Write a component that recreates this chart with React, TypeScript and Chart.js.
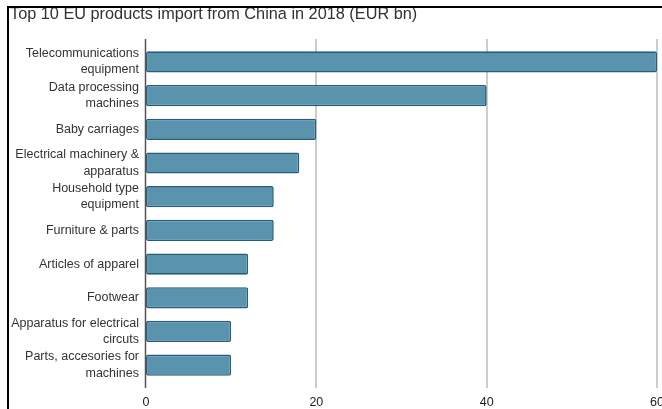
import React, { useEffect, useRef } from "react";
import { Chart, registerables } from "chart.js";

Chart.register(...registerables);

const titleText = "Top 10 EU products import from China in 2018 (EUR bn)";
const categories: (string | string[])[] = [
  ["Telecommunications", "equipment"],
  ["Data processing", "machines"],
  "Baby carriages",
  ["Electrical machinery &", "apparatus"],
  ["Household type", "equipment"],
  "Furniture & parts",
  "Articles of apparel",
  "Footwear",
  ["Apparatus for electrical", "circuts"],
  ["Parts, accesories for", "machines"],
];
const values: number[] = [60, 40, 20, 18, 15, 15, 12, 12, 10, 10];
const xTicks: number[] = [0, 20, 40, 60];

const gridPlugin = {
  id: "extGrid",
  beforeDatasetsDraw(chart: any) {
    const { ctx, chartArea, scales } = chart;
    const x = scales.x;
    const top = chartArea.top - 6;
    const bottom = chartArea.bottom + 6;
    ctx.save();
    xTicks.forEach((v) => {
      if (v === 0) return;
      const px = Math.round(x.getPixelForValue(v));
      ctx.strokeStyle = "#cccccc";
      ctx.lineWidth = 2;
      ctx.beginPath();
      ctx.moveTo(px, top);
      ctx.lineTo(px, bottom);
      ctx.stroke();
    });
    const z = Math.round(x.getPixelForValue(0)) - 0.5;
    ctx.strokeStyle = "#555555";
    ctx.lineWidth = 1.5;
    ctx.beginPath();
    ctx.moveTo(z, top);
    ctx.lineTo(z, bottom);
    ctx.stroke();
    ctx.restore();
  },
};

export default function App() {
  const ref = useRef<HTMLCanvasElement | null>(null);
  useEffect(() => {
    if (!ref.current) return;
    const chart = new Chart(ref.current, {
      type: "bar",
      data: {
        labels: categories,
        datasets: [
          {
            data: values,
            backgroundColor: "#5a93ae",
            borderColor: "#265d78",
            borderWidth: 1.6,
            borderRadius: 2,
            borderSkipped: false,
            barPercentage: 0.63,
            categoryPercentage: 1,
          },
        ],
      },
      options: {
        indexAxis: "y",
        animation: false,
        responsive: false,
        maintainAspectRatio: false,
        layout: { padding: { left: 10, right: 43, top: 0, bottom: -4 } },
        plugins: {
          legend: { display: false },
          tooltip: { enabled: false },
          title: {
            display: true,
            text: titleText,
            align: "start",
            color: "#333333",
            font: { family: "Liberation Sans, Arial, sans-serif", size: 16.3, weight: "normal", lineHeight: 1.2 },
            padding: { top: 5, bottom: 20.5 },
          },
        },
        scales: {
          x: {
            min: 0,
            max: 60,
            afterBuildTicks: (s: any) => {
              s.ticks = xTicks.map((v) => ({ value: v }));
            },
            grid: { display: false, drawTicks: false },
            border: { display: false },
            ticks: {
              padding: 13.5,
              color: "#222222",
              font: { family: "Liberation Sans, Arial, sans-serif", size: 12.5, lineHeight: 1.2 },
              maxRotation: 0,
            },
          },
          y: {
            afterFit: (s: any) => {
              s.width = 136;
            },
            grid: { display: false, drawTicks: false },
            border: { display: false },
            ticks: {
              autoSkip: false,
              padding: 7,
              color: "#333333",
              font: { family: "Liberation Sans, Arial, sans-serif", size: 12.5, lineHeight: 1.3 },
            },
          },
        },
      },
      plugins: [gridPlugin],
    });
    return () => chart.destroy();
  }, []);

  return (
    <div style={{ position: "fixed", left: 0, top: 0, width: 662, height: 409, overflow: "hidden", background: "#fff" }}>
      <canvas ref={ref} width={700} height={420} style={{ position: "absolute", left: 0, top: 0, width: 700, height: 420 }} />
      <div style={{ position: "absolute", left: 7, top: 6, width: 700, height: 2, background: "#000" }} />
      <div style={{ position: "absolute", left: 7, top: 6, width: 2, height: 420, background: "#000" }} />
    </div>
  );
}
